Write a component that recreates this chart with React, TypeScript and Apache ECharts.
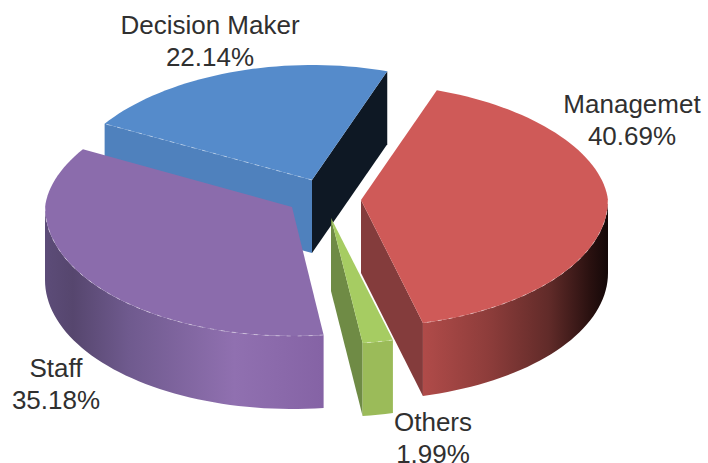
import React, { useEffect, useRef } from "react";
import * as echarts from "echarts";

const categories = ["Managemet", "Others", "Staff", "Decision Maker"];
const shares = [40.69, 1.99, 35.18, 22.14];
const shareLabels = ["40.69%", "1.99%", "35.18%", "22.14%"];

const FIRST_ANGLE = 19;
const DEPTH = 73;
const RIM_TAPER = 0.06;
const drawOrder = [3, 0, 2, 1];
const apex: number[][] = [[361, 200], [331, 218], [292, 207], [312, 180]];
const radiusX = [247, 247, 247, 245];
const radiusTop = [116, 116, 118, 115];
const radiusBottom = [127, 126, 129, 128];
const topColor = ["#CF5A58", "#A6CC62", "#8B6CAC", "#558BCB"];
const labelAt: number[][] = [[632, 120], [433, 438], [56, 384], [210, 41]];

const wallStops: [number, string][][] = [
  [[0, "#B04B49"], [0.35, "#8E3D3B"], [0.68, "#612B29"], [0.9, "#2A1110"], [1, "#140808"]],
  [[0, "#9BBB59"], [1, "#9BBB59"]],
  [[0, "#5C4C78"], [0.1, "#56466E"], [0.3, "#6F5A8E"], [0.68, "#9070B0"], [1, "#8563A5"]],
  [[0, "#4F81BD"], [1, "#4F81BD"]],
];
const startFaceColor = ["", "", "", "#4F81BD"];
const endFaceColor = ["#843C3C", "#6F8B45", "", "#0E1824"];

const spans: number[][] = [];
{
  const total = shares.reduce((a, b) => a + b, 0);
  let cursor = FIRST_ANGLE;
  shares.forEach((s) => {
    const sweep = (s / total) * 360;
    spans.push([cursor, cursor + sweep]);
    cursor += sweep;
  });
}

function rimPoint(i: number, deg: number): number[] {
  const t = (deg * Math.PI) / 180;
  const c = Math.cos(t);
  const ry = c > 0 ? radiusTop[i] : radiusBottom[i];
  const taper = c > 0 ? 1 - RIM_TAPER * c : 1;
  return [apex[i][0] + radiusX[i] * Math.sin(t) * taper, apex[i][1] - ry * c];
}

function rimPoints(i: number, a: number, b: number): number[][] {
  const out: number[][] = [];
  const n = Math.max(2, Math.ceil((b - a) / 2));
  for (let k = 0; k <= n; k++) out.push(rimPoint(i, a + ((b - a) * k) / n));
  return out;
}

const drop = (p: number[]) => [p[0], p[1] + DEPTH];

function face(i: number, deg: number, fill: string) {
  const p = rimPoint(i, deg);
  return {
    type: "polygon",
    shape: { points: [apex[i], p, drop(p), drop(apex[i])] },
    style: { fill },
  };
}

function seam(points: number[][]) {
  return {
    type: "polyline",
    shape: { points },
    style: {
      fill: null,
      stroke: "rgba(255,255,255,0.4)",
      lineWidth: 1,
      lineDash: [4, 7],
    },
  };
}

function renderSlice(params: any) {
  const i = drawOrder[params.dataIndex];
  const [a, b] = spans[i];
  const children: any[] = [];
  if (startFaceColor[i]) children.push(face(i, a, startFaceColor[i]));
  if (endFaceColor[i]) children.push(face(i, b, endFaceColor[i]));
  const wa = Math.max(a, 90);
  const wb = Math.min(b, 270);
  let wallRim: number[][] | null = null;
  if (wb > wa) {
    wallRim = rimPoints(i, wa, wb);
    children.push({
      type: "polygon",
      shape: { points: [...wallRim, ...wallRim.map(drop).reverse()] },
      style: {
        fill: {
          type: "linear",
          x: 0,
          y: 0,
          x2: 1,
          y2: 0,
          colorStops: wallStops[i].map(([offset, color]) => ({ offset, color })),
        },
      },
    });
  }
  children.push({
    type: "polygon",
    shape: { points: [apex[i], ...rimPoints(i, a, b)] },
    style: { fill: topColor[i] },
  });
  if (wallRim) children.push(seam(wallRim));
  if (startFaceColor[i]) children.push(seam([apex[i], rimPoint(i, a)]));
  children.push({
    type: "text",
    x: labelAt[i][0],
    y: labelAt[i][1],
    style: {
      text: `${categories[i]}\n${shareLabels[i]}`,
      fill: "#303030",
      font: '26px "Liberation Sans", Arial, sans-serif',
      lineHeight: 32,
      align: "center",
      verticalAlign: "middle",
    },
  });
  return { type: "group", children };
}

export default function App() {
  const ref = useRef<HTMLDivElement>(null);
  useEffect(() => {
    document.body.style.margin = "0";
    const chart = echarts.init(ref.current!, null, { renderer: "svg" });
    chart.setOption({
      animation: false,
      backgroundColor: "#FFFFFF",
      series: [
        {
          type: "custom",
          coordinateSystem: "none",
          silent: true,
          renderItem: renderSlice,
          data: drawOrder.map((i) => shares[i]),
        },
      ],
    });
    return () => chart.dispose();
  }, []);
  return <div ref={ref} style={{ width: 708, height: 463 }} />;
}
